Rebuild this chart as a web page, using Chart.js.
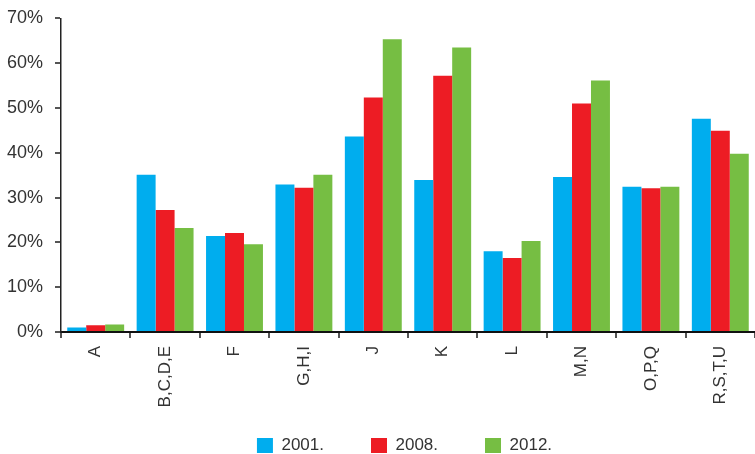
<!DOCTYPE html>
<html>
<head>
<meta charset="utf-8">
<script src="https://cdn.jsdelivr.net/npm/chart.js@4.4.0/dist/chart.umd.min.js"></script>
<style>
  html, body { margin: 0; padding: 0; background: #fff; }
  #wrap { width: 755px; height: 454px; position: relative; }
</style>
</head>
<body>
<div id="wrap"><canvas id="c" width="755" height="454"></canvas></div>
<script>
const categories = ["A", "B,C,D,E", "F", "G,H,I", "J", "K", "L", "M,N", "O,P,Q", "R,S,T,U"];
const seriesNames = ["2001.", "2008.", "2012."];
const values2001 = [1.0, 35.1, 21.4, 32.9, 43.6, 33.9, 18.0, 34.6, 32.4, 47.6];
const values2008 = [1.5, 27.2, 22.1, 32.2, 52.3, 57.2, 16.5, 51.0, 32.1, 44.9];
const values2012 = [1.7, 23.2, 19.6, 35.1, 65.3, 63.5, 20.3, 56.1, 32.4, 39.8];
const yTicks = [0, 10, 20, 30, 40, 50, 60, 70];
const colors = ["#00ADEE", "#ED1C24", "#76BE43"];

const FONT = "'Liberation Sans', Arial, sans-serif";

const layoutTweak = {
  id: 'layoutTweak',
  afterLayout(chart) {
    if (chart.legend) {
      chart.legend.left += 54;
      chart.legend.top += 10;
      chart.legend.bottom += 10;
    }
    if (chart.scales.x) { chart.scales.x.bottom = chart.height; }
  }
};

new Chart(document.getElementById('c'), {
  type: 'bar',
  data: {
    labels: categories,
    datasets: [
      { label: seriesNames[0], data: values2001, backgroundColor: colors[0] },
      { label: seriesNames[1], data: values2008, backgroundColor: colors[1] },
      { label: seriesNames[2], data: values2012, backgroundColor: colors[2] }
    ]
  },
  options: {
    responsive: false,
    animation: false,
    layout: { padding: { top: 0, right: 0, bottom: 0, left: 0 } },
    datasets: { bar: { categoryPercentage: 0.82, barPercentage: 1.0, borderWidth: 0 } },
    plugins: {
      legend: {
        position: 'bottom',
        align: 'center',
        labels: {
          boxWidth: 16, boxHeight: 15, padding: 47,
          color: '#333',
          font: { family: FONT, size: 17 }
        }
      },
      tooltip: { enabled: false }
    },
    scales: {
      x: {
        afterFit(scale) { scale.height = 48; },
        border: { display: true, color: '#111', width: 2 },
        grid: { drawOnChartArea: false, drawTicks: true, tickLength: 6, color: '#555', lineWidth: 2, offset: true },
        ticks: {
          color: '#333', font: { family: FONT, size: 17 },
          minRotation: 90, maxRotation: 90, padding: 8, autoSkip: false
        }
      },
      y: {
        min: 0, max: 70,
        afterFit(scale) { scale.width = 61; },
        afterBuildTicks(scale) { scale.ticks = yTicks.map(v => ({ value: v })); },
        border: { display: true, color: '#222', width: 1.5 },
        grid: { drawOnChartArea: false, drawTicks: true, tickLength: 6, color: '#555', lineWidth: 2 },
        ticks: {
          color: '#333', font: { family: FONT, size: 18, lineHeight: 0.7 }, padding: 12,
          callback: (v) => v + '%'
        }
      }
    }
  },
  plugins: [layoutTweak]
});
</script>
</body>
</html>
